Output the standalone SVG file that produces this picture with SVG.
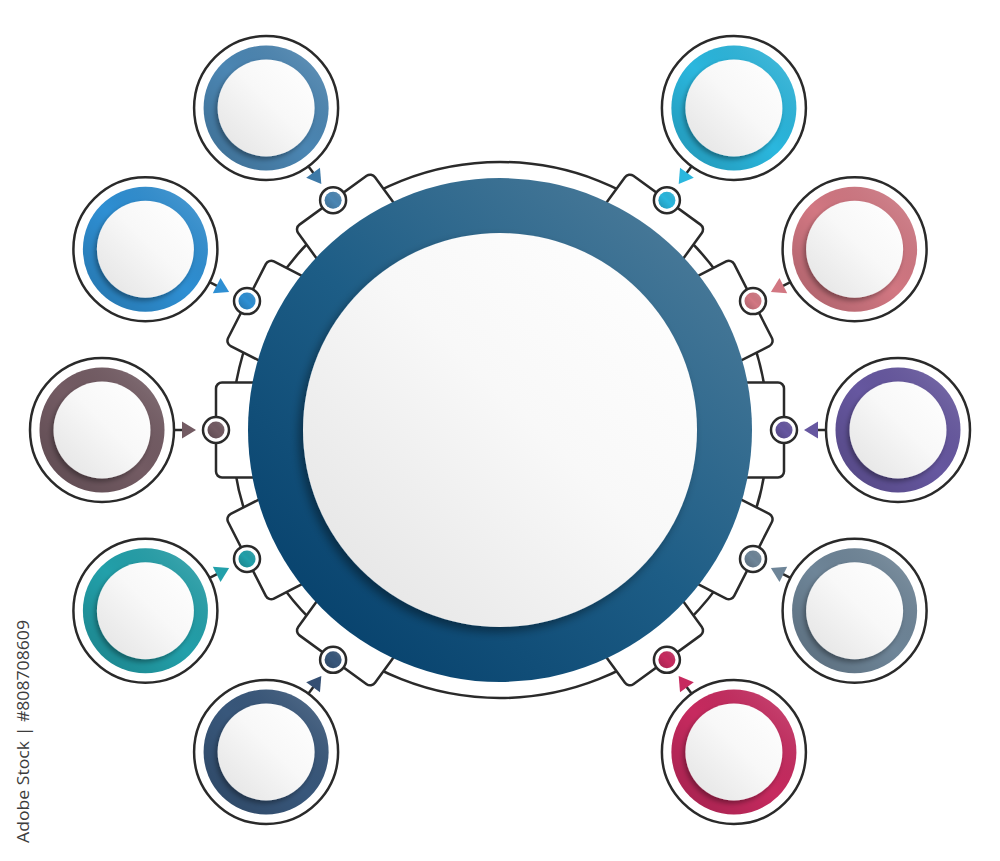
<svg xmlns="http://www.w3.org/2000/svg" xmlns:xlink="http://www.w3.org/1999/xlink" width="1000" height="861" viewBox="0 0 1000 861">
  <style>
    .ln { stroke: #2a2a2a; stroke-width: 2.5; }
    .tab { fill: #fff; stroke: #2a2a2a; stroke-width: 2.5; }
    .conn { fill: currentColor; }
    .stub { stroke: #2a2a2a; stroke-width: 2.5; }
    .wm { font-family: "Open Sans", "Liberation Sans", sans-serif; font-size: 16px; fill: #3c3c3c; }
  </style>
  <defs>
    <linearGradient id="shade" x1="0" y1="1" x2="1" y2="0">
      <stop offset="0" stop-color="#000" stop-opacity="0.2"/>
      <stop offset="0.5" stop-color="#000" stop-opacity="0"/>
      <stop offset="1" stop-color="#fff" stop-opacity="0.2"/>
    </linearGradient>
    <linearGradient id="disc" x1="0" y1="1" x2="1" y2="0">
      <stop offset="0" stop-color="#e2e2e2"/>
      <stop offset="0.55" stop-color="#f8f8f8"/>
      <stop offset="1" stop-color="#ffffff"/>
    </linearGradient>
    <linearGradient id="bigring" x1="0.1" y1="0.95" x2="0.9" y2="0.05">
      <stop offset="0" stop-color="#053f6a"/>
      <stop offset="0.5" stop-color="#1d5d86"/>
      <stop offset="1" stop-color="#4d7c9a"/>
    </linearGradient>
    <filter id="sh" x="-30%" y="-30%" width="160%" height="160%">
      <feDropShadow dx="-2" dy="3" stdDeviation="2.5" flood-color="#000" flood-opacity="0.35"/>
    </filter>
    <filter id="shBig" x="-20%" y="-20%" width="140%" height="140%">
      <feDropShadow dx="-4" dy="5" stdDeviation="5" flood-color="#000" flood-opacity="0.4"/>
    </filter>
    <g id="sat">
      <circle r="72" fill="#fff" class="ln"/>
      <circle r="62.5" fill="currentColor"/>
      <circle r="62.5" fill="url(#shade)"/>
      <circle r="48.5" fill="url(#disc)" filter="url(#sh)"/>
    </g>
    <g id="dot">
      <circle r="13" fill="#fff" class="ln"/>
      <circle r="8.5" fill="currentColor"/>
      <circle r="8.5" fill="url(#shade)"/>
    </g>
    <rect id="tabShape" class="tab" x="735" y="382.5" width="49" height="95" rx="6"/>
    <g id="arrow">
      <line class="stub" x1="816" y1="430" x2="827" y2="430"/>
      <polygon class="conn" points="804,430 818,421.5 818,438.5"/>
    </g>
  </defs>

  <rect width="1000" height="861" fill="#fff"/>

  <!-- central hub -->
  <g id="hub">
    <circle cx="500" cy="430" r="268" fill="#fff" class="ln"/>
    <use xlink:href="#tabShape" transform="rotate(0 500 430)"/>
    <use xlink:href="#tabShape" transform="rotate(27 500 430)"/>
    <use xlink:href="#tabShape" transform="rotate(54 500 430)"/>
    <use xlink:href="#tabShape" transform="rotate(126 500 430)"/>
    <use xlink:href="#tabShape" transform="rotate(153 500 430)"/>
    <use xlink:href="#tabShape" transform="rotate(180 500 430)"/>
    <use xlink:href="#tabShape" transform="rotate(207 500 430)"/>
    <use xlink:href="#tabShape" transform="rotate(234 500 430)"/>
    <use xlink:href="#tabShape" transform="rotate(306 500 430)"/>
    <use xlink:href="#tabShape" transform="rotate(333 500 430)"/>
    <circle cx="500" cy="430" r="252" fill="url(#bigring)"/>
    <circle cx="500" cy="430" r="197" fill="url(#disc)" filter="url(#shBig)"/>
  </g>

  <!-- ports on the hub -->
  <g id="ports">
    <use xlink:href="#dot" x="333.1" y="200.2" style="color:#4b86b3"/>
    <use xlink:href="#dot" x="247" y="301.1" style="color:#2e8fd3"/>
    <use xlink:href="#dot" x="216" y="430" style="color:#735b63"/>
    <use xlink:href="#dot" x="247" y="558.9" style="color:#22a0aa"/>
    <use xlink:href="#dot" x="333.1" y="659.8" style="color:#38577b"/>
    <use xlink:href="#dot" x="666.9" y="200.2" style="color:#2ab7de"/>
    <use xlink:href="#dot" x="753" y="301.1" style="color:#d27782"/>
    <use xlink:href="#dot" x="784" y="430" style="color:#6657a0"/>
    <use xlink:href="#dot" x="753" y="558.9" style="color:#6e8598"/>
    <use xlink:href="#dot" x="666.9" y="659.8" style="color:#c72a5f"/>
  </g>

  <!-- connectors -->
  <g id="connectors">
    <use xlink:href="#arrow" transform="rotate(234 500 430)" style="color:#3e7aa8"/>
    <use xlink:href="#arrow" transform="rotate(207 500 430)" style="color:#2e8fd3"/>
    <use xlink:href="#arrow" transform="rotate(180 500 430)" style="color:#735b63"/>
    <use xlink:href="#arrow" transform="rotate(153 500 430)" style="color:#22a0aa"/>
    <use xlink:href="#arrow" transform="rotate(126 500 430)" style="color:#344f73"/>
    <use xlink:href="#arrow" transform="rotate(306 500 430)" style="color:#2ab7de"/>
    <use xlink:href="#arrow" transform="rotate(333 500 430)" style="color:#d27782"/>
    <use xlink:href="#arrow" transform="rotate(0 500 430)" style="color:#6657a0"/>
    <use xlink:href="#arrow" transform="rotate(27 500 430)" style="color:#6e8598"/>
    <use xlink:href="#arrow" transform="rotate(54 500 430)" style="color:#c72a5f"/>
  </g>

  <!-- satellites -->
  <g id="node-1"><use xlink:href="#sat" x="266.1" y="108" style="color:#4b86b3"/></g>
  <g id="node-2"><use xlink:href="#sat" x="145.4" y="249.3" style="color:#2e8fd3"/></g>
  <g id="node-3"><use xlink:href="#sat" x="102" y="430" style="color:#735b63"/></g>
  <g id="node-4"><use xlink:href="#sat" x="145.4" y="610.7" style="color:#22a0aa"/></g>
  <g id="node-5"><use xlink:href="#sat" x="266.1" y="752" style="color:#38577b"/></g>
  <g id="node-6"><use xlink:href="#sat" x="733.9" y="108" style="color:#2ab7de"/></g>
  <g id="node-7"><use xlink:href="#sat" x="854.6" y="249.3" style="color:#d27782"/></g>
  <g id="node-8"><use xlink:href="#sat" x="898" y="430" style="color:#6657a0"/></g>
  <g id="node-9"><use xlink:href="#sat" x="854.6" y="610.7" style="color:#6e8598"/></g>
  <g id="node-10"><use xlink:href="#sat" x="733.9" y="752" style="color:#c72a5f"/></g>

  <text class="wm" transform="translate(29 843) rotate(-90)" textLength="223" lengthAdjust="spacingAndGlyphs">Adobe Stock | #808708609</text>
</svg>
